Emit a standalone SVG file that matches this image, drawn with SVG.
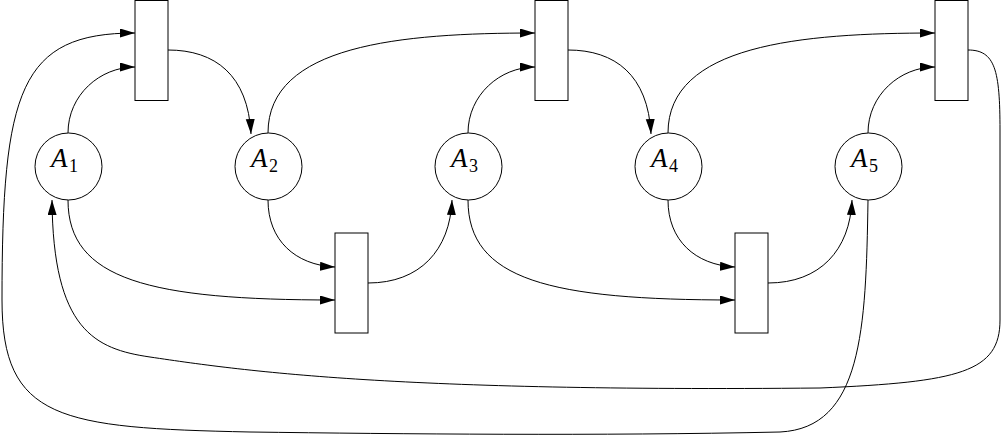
<svg xmlns="http://www.w3.org/2000/svg" width="1003" height="436" viewBox="0 0 1003 436">
<style>
.node{fill:#fff;stroke:#000;stroke-width:1}
.e{fill:none;stroke:#000;stroke-width:1}
.lbl{font-family:"Liberation Serif",serif;font-size:27px;font-style:italic;fill:#000}
.sub{font-size:18px;font-style:normal}
</style>
<defs>
<marker id="ar" markerUnits="userSpaceOnUse" markerWidth="16" markerHeight="10" refX="15" refY="4.5" orient="auto">
<path d="M0,0 L15,4.5 L0,9 z" fill="#000"/>
</marker>
</defs>
<rect width="1003" height="436" fill="#fff"/>
<g id="connectors">
<path class="e" marker-end="url(#ar)" d="M68,133 C68,95 100,67 135,67"/>
<path class="e" marker-end="url(#ar)" d="M468,133 C468,95 500,67 535,67"/>
<path class="e" marker-end="url(#ar)" d="M868,133 C868,95 900,67 935,67"/>
<path class="e" marker-end="url(#ar)" d="M268,133 C268,45 400,33 535,33"/>
<path class="e" marker-end="url(#ar)" d="M668,133 C668,45 800,33 935,33"/>
<path class="e" marker-end="url(#ar)" d="M168,50 C215,50 248,75 251,134"/>
<path class="e" marker-end="url(#ar)" d="M568,50 C615,50 648,75 651,134"/>
<path class="e" marker-end="url(#ar)" d="M68,200 C68,280 150,300 335,300"/>
<path class="e" marker-end="url(#ar)" d="M468,200 C468,280 550,300 735,300"/>
<path class="e" marker-end="url(#ar)" d="M268,200 C268,240 295,265 335,267"/>
<path class="e" marker-end="url(#ar)" d="M668,200 C668,240 695,265 735,267"/>
<path class="e" marker-end="url(#ar)" d="M368,283 C420,283 450,250 452,200"/>
<path class="e" marker-end="url(#ar)" d="M768,283 C820,283 850,250 852,200"/>
<path class="e" marker-end="url(#ar)" d="M968,50 C995,50 1000,70 1000,130 L1000,320 C1000,372 960,382 820,388 C400,392 250,372 150,357 C95,349 53,330 52,200"/>
<path class="e" marker-end="url(#ar)" d="M868,200 C866,330 862,428 780,432 C600,436 400,434 250,432 C60,428 2,420 2,300 C2,90 20,33 135,33"/>
</g>
<g id="T1"><rect class="node" x="135" y="0.5" width="33" height="100"/></g>
<g id="T2"><rect class="node" x="535" y="0.5" width="33" height="100"/></g>
<g id="T3"><rect class="node" x="935" y="0.5" width="33" height="100"/></g>
<g id="T4"><rect class="node" x="335" y="233" width="33" height="100"/></g>
<g id="T5"><rect class="node" x="735" y="233" width="33" height="100"/></g>
<g id="A1"><circle class="node" cx="68.5" cy="166.5" r="33.5"/><text class="lbl" x="51" y="167">A<tspan class="sub" dx="1.5" dy="5">1</tspan></text></g>
<g id="A2"><circle class="node" cx="268.5" cy="166.5" r="33.5"/><text class="lbl" x="251" y="167">A<tspan class="sub" dx="1.5" dy="5">2</tspan></text></g>
<g id="A3"><circle class="node" cx="468.5" cy="166.5" r="33.5"/><text class="lbl" x="451" y="167">A<tspan class="sub" dx="1.5" dy="5">3</tspan></text></g>
<g id="A4"><circle class="node" cx="668.5" cy="166.5" r="33.5"/><text class="lbl" x="651" y="167">A<tspan class="sub" dx="1.5" dy="5">4</tspan></text></g>
<g id="A5"><circle class="node" cx="868.5" cy="166.5" r="33.5"/><text class="lbl" x="851" y="167">A<tspan class="sub" dx="1.5" dy="5">5</tspan></text></g>
</svg>
